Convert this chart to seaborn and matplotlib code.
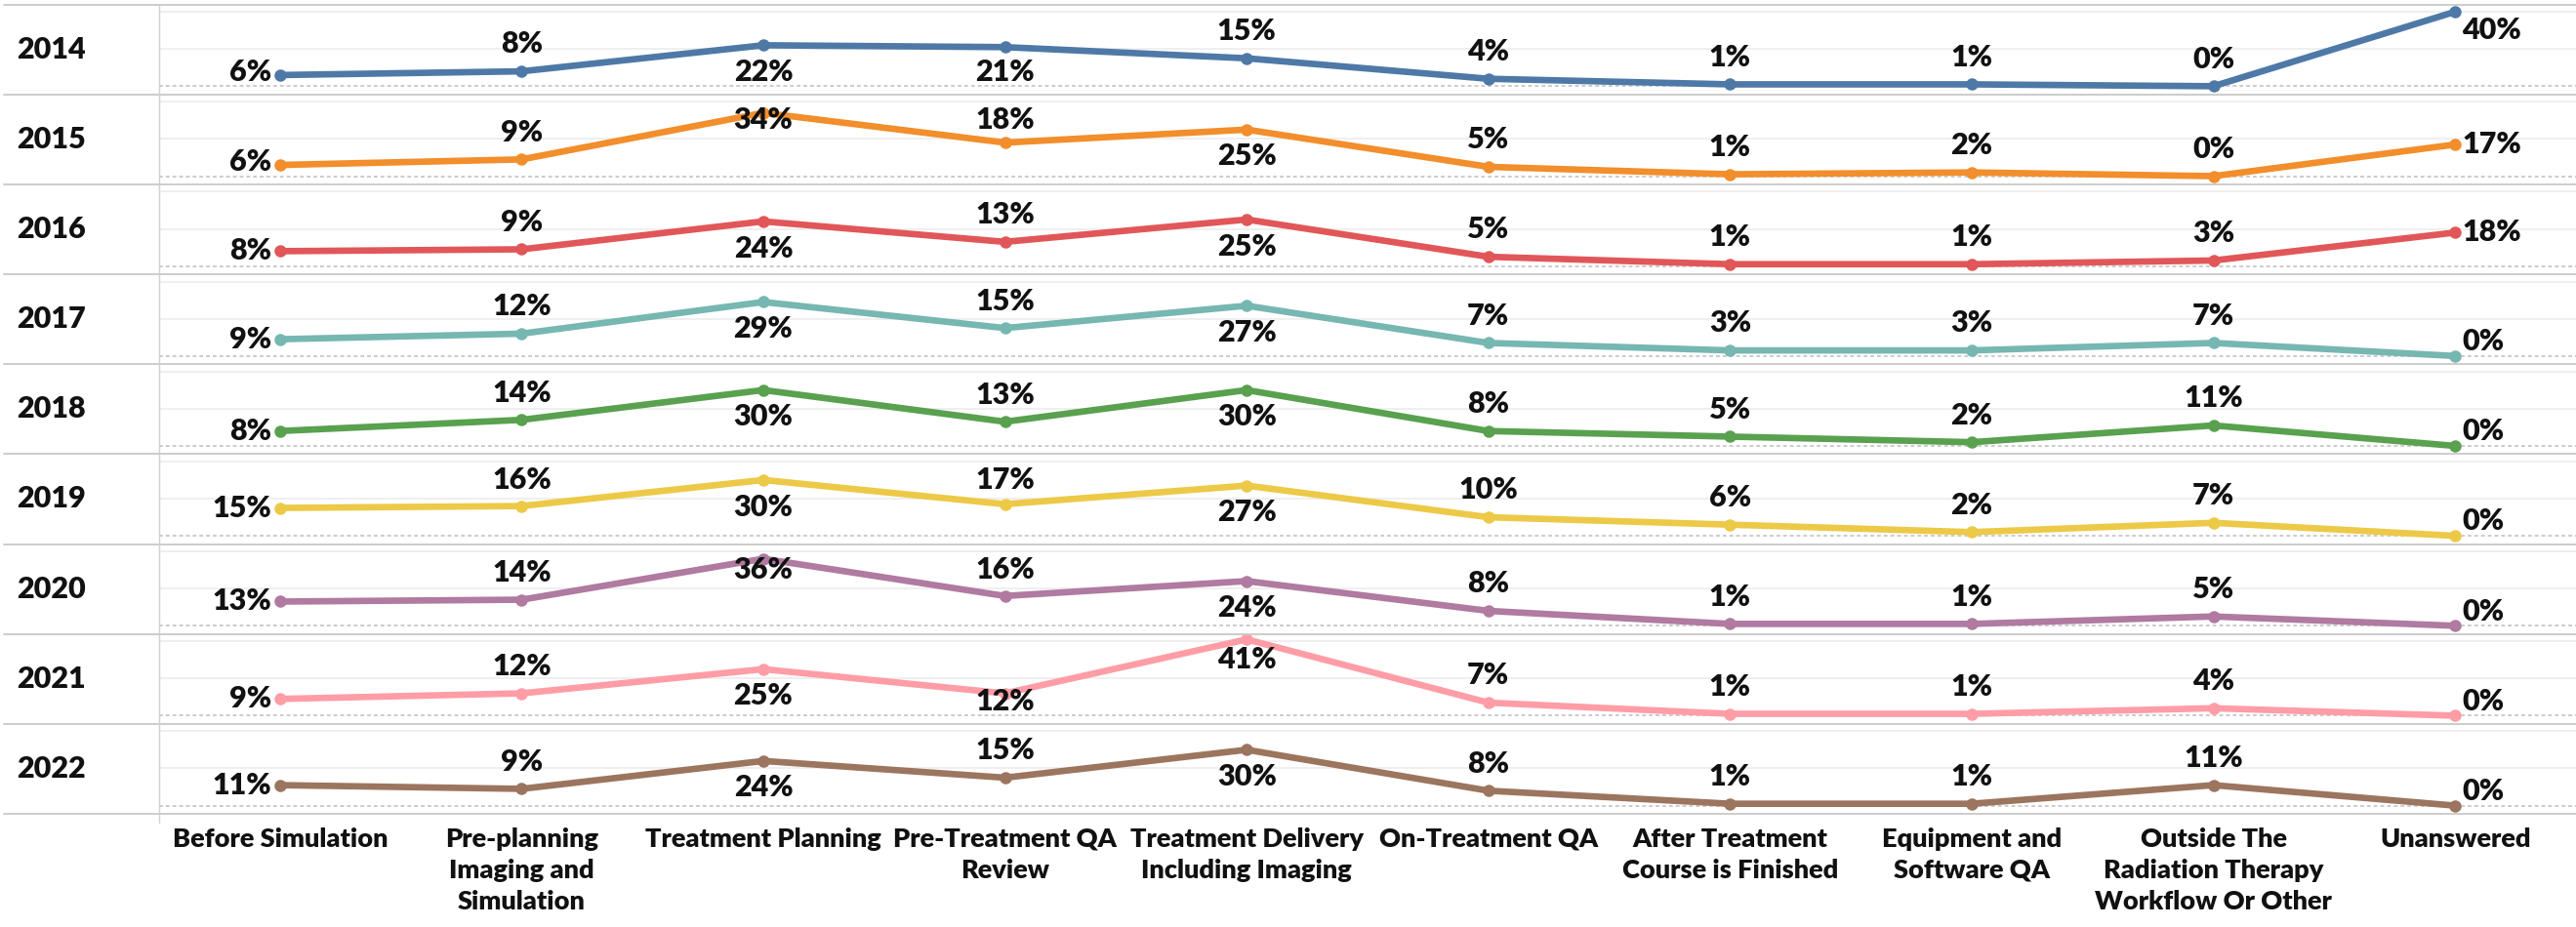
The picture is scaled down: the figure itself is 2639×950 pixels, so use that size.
import numpy as np
import pandas as pd
import seaborn as sns
import matplotlib.pyplot as plt
from matplotlib import font_manager
from matplotlib.lines import Line2D

years = ["2014", "2015", "2016", "2017", "2018", "2019", "2020", "2021", "2022"]
stages = ["Before Simulation", "Pre-planning\nImaging and\nSimulation", "Treatment Planning",
          "Pre-Treatment QA\nReview", "Treatment Delivery\nIncluding Imaging", "On-Treatment QA",
          "After Treatment\nCourse is Finished", "Equipment and\nSoftware QA",
          "Outside The\nRadiation Therapy\nWorkflow Or Other", "Unanswered"]

share_2014 = [6, 8, 22, 21, 15, 4, 1, 1, 0, 40]
share_2015 = [6, 9, 34, 18, 25, 5, 1, 2, 0, 17]
share_2016 = [8, 9, 24, 13, 25, 5, 1, 1, 3, 18]
share_2017 = [9, 12, 29, 15, 27, 7, 3, 3, 7, 0]
share_2018 = [8, 14, 30, 13, 30, 8, 5, 2, 11, 0]
share_2019 = [15, 16, 30, 17, 27, 10, 6, 2, 7, 0]
share_2020 = [13, 14, 36, 16, 24, 8, 1, 1, 5, 0]
share_2021 = [9, 12, 25, 12, 41, 7, 1, 1, 4, 0]
share_2022 = [11, 9, 24, 15, 30, 8, 1, 1, 11, 0]
shares = [share_2014, share_2015, share_2016, share_2017, share_2018,
          share_2019, share_2020, share_2021, share_2022]

colors = ["#4e79a7", "#f28e2b", "#e15759", "#76b7b2", "#59a14f",
          "#edc948", "#b07aa1", "#ff9da7", "#9c755f"]

# label placement per row: l=left, r=right, a=above, b=below
placement = ["labbaaaaar", "laaabaaaar", "lababaaaar", "lababaaaar", "lababaaaar",
             "lababaaaar", "laaabaaaar", "labbaaaaar", "lababaaaar"]

rows = []
for y, vals in zip(years, shares):
    for s, v in zip(stages, vals):
        rows.append((y, s, v))
df = pd.DataFrame(rows, columns=["year", "stage", "share"])

sns.set_style("white")
names = set(font_manager.get_font_names())
if "Liberation Sans Narrow" in names:
    fam, fs_tick, fs_lab, wt = "Liberation Sans Narrow", 21, 23, "bold"
else:
    fam, fs_tick, fs_lab, wt = "Lato", 19.5, 22, "heavy"
plt.rcParams["font.family"] = [fam, "DejaVu Sans"]

W, H = 2639, 950
fig = plt.figure(figsize=(W / 100, H / 100), dpi=100)
top0, bot = 4.6, 834.0
row_h = (bot - top0) / len(years)
left_px = 163
ink = "#111111"

axes = []
for r, (y, vals) in enumerate(zip(years, shares)):
    y_top = top0 + r * row_h
    ax = fig.add_axes([left_px / W, 1 - (y_top + row_h) / H, 1 - left_px / W, row_h / H])
    axes.append(ax)
    for g in (20, 40):
        ax.axhline(g, color="#ececec", lw=1.2, zorder=0)
    ax.axhline(0, color="#bdbdbd", lw=1.1, ls=(0, (2.5, 2)), zorder=0)
    sns.lineplot(data=df[df["year"] == y], x="stage", y="share", sort=False,
                 color=colors[r], lw=4.8, marker="o", markersize=9,
                 markeredgewidth=0, ax=ax, zorder=3)
    ax.set_xlim(-0.5, len(stages) - 0.5)
    ax.set_ylim(-4.4, 43.9)
    ax.set_xlabel("")
    ax.set_ylabel("")
    ax.set_yticks([])
    for sp in ax.spines.values():
        sp.set_visible(False)

    for i, v in enumerate(vals):
        p = placement[r][i]
        if p == "a":
            yc, dx, ha = v + 14.5, 0, "center"
        elif p == "b":
            yc, dx, ha = v - 14.5, 0, "center"
        elif p == "l":
            yc, dx, ha = v, -9, "right"
        else:
            yc, dx, ha = v, 7, "left"
        yc = float(np.clip(yc, 7.7, 30))
        ax.annotate(f"{v}%", xy=(i, yc), xytext=(dx, 0), textcoords="offset pixels",
                    ha=ha, va="center", fontsize=fs_lab, fontweight=wt,
                    color=ink, zorder=4)

    fig.text(17 / W, 1 - (y_top + row_h / 2) / H, y, ha="left", va="center",
             fontsize=fs_lab, fontweight=wt, color=ink)

for ax in axes[:-1]:
    ax.set_xticks([])
    ax.set_xticks([], minor=True)

ax = axes[-1]
ax.set_xticks(range(len(stages)))
ax.set_xticklabels(stages, fontsize=fs_tick, fontweight=wt, color=ink, linespacing=1.4)
ax.tick_params(axis="x", which="major", length=0, pad=10)
ax.set_xticks(np.arange(-0.5, len(stages)), minor=True)
ax.tick_params(axis="x", which="minor", length=6.5, width=1, color="#d6d6d6")

# row separators and left divider
for k in range(len(years) + 1):
    yy = 1 - (top0 + k * row_h) / H
    fig.add_artist(Line2D([4 / W, 1], [yy, yy], color="#c8c8c8", lw=1.3))
fig.add_artist(Line2D([left_px / W, left_px / W], [1 - top0 / H, 1 - 843 / H],
                      color="#d0d0d0", lw=1.0))

fig.savefig("out.png", dpi=100, facecolor="white")
